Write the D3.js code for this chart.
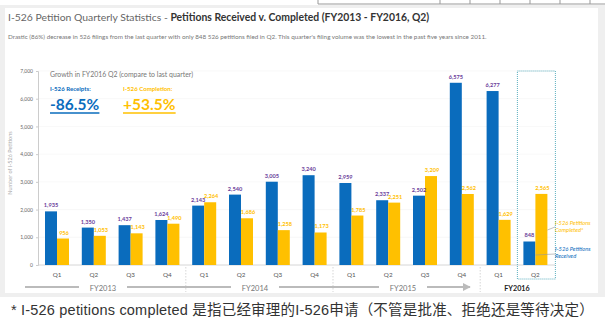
<!DOCTYPE html>
<html>
<head>
<meta charset="utf-8">
<script src="https://cdn.jsdelivr.net/npm/d3@7"></script>
<style>
  body { margin: 0; background: #fff; }
  svg { display: block; }
</style>
</head>
<body>
<svg id="chart" width="605" height="323"></svg>
<script>
const quarters = ["Q1", "Q2", "Q3", "Q4", "Q1", "Q2", "Q3", "Q4", "Q1", "Q2", "Q3", "Q4", "Q1", "Q2"];
const received = [1935, 1350, 1437, 1624, 2143, 2540, 3005, 3240, 2959, 2337, 2502, 6575, 6277, 848];
const completed = [956, 1053, 1143, 1490, 2264, 1686, 1258, 1173, 1785, 2251, 3209, 2562, 1629, 2565];
const yTicks = [0, 1000, 2000, 3000, 4000, 5000, 6000, 7000];
const fiscalYears = ["FY2013", "FY2014", "FY2015", "FY2016"];
const yearStart = [0, 4, 8, 12];

const blue = "#0a6cbd";
const yellow = "#ffc000";
const purple = "#6a3d9a";
const fontC = "Lato, 'Open Sans', sans-serif";

const svg = d3.select("#chart");

// panel frame
svg.append("rect").attr("x", 0).attr("y", 5).attr("width", 605).attr("height", 292).attr("fill", "#efefef");
svg.append("rect").attr("x", 5).attr("y", 8).attr("width", 593).attr("height", 285).attr("fill", "#fff");
// table fragment on top
svg.append("line").attr("x1", 318).attr("x2", 605).attr("y1", 4).attr("y2", 4).attr("stroke", "#999");
[318, 440, 470, 500, 530, 560, 590].forEach(x =>
  svg.append("line").attr("x1", x).attr("x2", x).attr("y1", 0).attr("y2", 4).attr("stroke", "#999"));

// title
const title = svg.append("text").attr("x", 8).attr("y", 21)
  .attr("font-family", fontC).attr("font-size", 10.4);
title.append("tspan").attr("fill", "#666").text("I-526 Petition Quarterly Statistics - ");
title.append("tspan").attr("fill", "#333").attr("font-weight", "bold")
  .text("Petitions Received v. Completed (FY2013 - FY2016, Q2)");

svg.append("text").attr("x", 8).attr("y", 39)
  .attr("font-family", fontC).attr("font-size", 6.3).attr("fill", "#777")
  .text("Drastic (86%) decrease in 526 filings from the last quarter with only 848 526 petitions filed in Q2. This quarter's filing volume was the lowest in the past five years since 2011.");

const x = d3.scaleBand().domain(d3.range(quarters.length)).range([38.6, 553.8]).padding(0);
const inner = d3.scaleBand().domain(["r", "c"]).range([0, 24]);
const y = d3.scaleLinear().domain([0, 7000]).range([265, 71]);
const off = (x.bandwidth() - 24) / 2;

// gridlines
svg.append("g").selectAll("line").data(yTicks.slice(1)).join("line")
  .attr("x1", 38).attr("x2", 555).attr("y1", d => y(d)).attr("y2", d => y(d))
  .attr("stroke", "#f3f3f3").attr("stroke-width", 0.6);

// y axis
const yAxis = svg.append("g").attr("transform", "translate(38,0)")
  .call(d3.axisLeft(y).tickValues(yTicks).tickFormat(d3.format(",")).tickSize(2).tickPadding(3));
yAxis.select(".domain").attr("stroke", "#ccc");
yAxis.selectAll(".tick line").attr("stroke", "#ccc");
yAxis.selectAll("text").attr("font-family", fontC).attr("font-size", 5).attr("fill", "#666");

svg.append("text").attr("transform", "translate(12,163) rotate(-90)")
  .attr("text-anchor", "middle").attr("font-family", fontC).attr("font-size", 5.5).attr("fill", "#aaa")
  .text("Number of I-526 Petitions");

// baseline
svg.append("line").attr("x1", 38).attr("x2", 555).attr("y1", 265).attr("y2", 265)
  .attr("stroke", "#ccc").attr("stroke-width", 0.8);

// bars
const groups = svg.append("g").selectAll("g").data(quarters).join("g")
  .attr("transform", (d, i) => `translate(${x(i) + off},0)`);

groups.append("rect").attr("x", inner("r")).attr("width", inner.bandwidth())
  .attr("y", (d, i) => y(received[i])).attr("height", (d, i) => 265 - y(received[i])).attr("fill", blue);
groups.append("rect").attr("x", inner("c")).attr("width", inner.bandwidth())
  .attr("y", (d, i) => y(completed[i])).attr("height", (d, i) => 265 - y(completed[i])).attr("fill", yellow);

groups.append("text").attr("x", inner("r") + inner.bandwidth() / 2)
  .attr("y", (d, i) => y(received[i]) - 4)
  .attr("text-anchor", "middle").attr("font-family", fontC).attr("font-size", 5.6)
  .attr("font-weight", "bold").attr("fill", purple)
  .text((d, i) => d3.format(",")(received[i]));
groups.append("text").attr("x", inner("c") + inner.bandwidth() / 2 + 1)
  .attr("y", (d, i) => y(completed[i]) - 4)
  .attr("text-anchor", "middle").attr("font-family", fontC).attr("font-size", 5.6)
  .attr("font-weight", "bold").attr("fill", yellow)
  .text((d, i) => d3.format(",")(completed[i]));

groups.append("text").attr("x", 12).attr("y", 277)
  .attr("text-anchor", "middle").attr("font-family", fontC).attr("font-size", 6.3)
  .attr("fill", "#555").text(d => d);

// year separators (dashed)
yearStart.slice(1).forEach(i => {
  const sx = x(i);
  svg.append("line").attr("x1", sx).attr("x2", sx).attr("y1", 267).attr("y2", 292)
    .attr("stroke", "#bbb").attr("stroke-width", 0.6).attr("stroke-dasharray", "1.5,1.5");
});

// fiscal year arrow
svg.append("defs").append("marker").attr("id", "arr").attr("viewBox", "0 0 10 10")
  .attr("refX", 9).attr("refY", 5).attr("markerWidth", 4).attr("markerHeight", 4).attr("orient", "auto")
  .append("path").attr("d", "M0,0L10,5L0,10z").attr("fill", "#bbb");
const fyLabelX = [103, 255, 403];
const gaps = fyLabelX.map(c => [c - 24, c + 24]);
let segStart = 25;
gaps.forEach(g => {
  svg.append("line").attr("x1", segStart).attr("x2", g[0]).attr("y1", 287).attr("y2", 287)
    .attr("stroke", "#bbb").attr("stroke-width", 2);
  segStart = g[1];
});
svg.append("line").attr("x1", segStart).attr("x2", 470).attr("y1", 287).attr("y2", 287)
  .attr("stroke", "#bbb").attr("stroke-width", 2).attr("marker-end", "url(#arr)");

fiscalYears.slice(0, 3).forEach((fy, k) => {
  svg.append("text").attr("x", fyLabelX[k]).attr("y", 290.5).attr("text-anchor", "middle")
    .attr("font-family", fontC).attr("font-size", 7.5).attr("fill", "#777").text(fy);
});
svg.append("text").attr("x", 517).attr("y", 290.5).attr("text-anchor", "middle")
  .attr("font-family", fontC).attr("font-size", 7.2).attr("font-weight", "bold").attr("fill", "#222")
  .text(fiscalYears[3]);

// highlight box around last quarter
const last = quarters.length - 1;
svg.append("rect").attr("x", x(last) + off - 6).attr("y", 71)
  .attr("width", 38).attr("height", 208)
  .attr("fill", "none").attr("stroke", "#4aa6b8").attr("stroke-width", 0.9).attr("stroke-dasharray", "1,1");

// side annotations
const cx = x(last) + off;
svg.append("line").attr("x1", cx + 24).attr("x2", 555).attr("y1", 230).attr("y2", 227)
  .attr("stroke", "#999").attr("stroke-width", 0.6);
svg.append("line").attr("x1", cx + 12).attr("x2", 555).attr("y1", 255).attr("y2", 254)
  .attr("stroke", "#999").attr("stroke-width", 0.6);
[["I-526 Petitions", 225], ["Completed*", 232]].forEach(t =>
  svg.append("text").attr("x", 555).attr("y", t[1]).attr("font-family", fontC).attr("font-size", 5.8)
    .attr("font-style", "italic").attr("fill", yellow).text(t[0]));
[["I-526 Petitions", 251], ["Received", 258]].forEach(t =>
  svg.append("text").attr("x", 555).attr("y", t[1]).attr("font-family", fontC).attr("font-size", 5.8)
    .attr("font-style", "italic").attr("fill", blue).text(t[0]));

// growth callout
svg.append("text").attr("x", 50).attr("y", 76.5).attr("font-family", fontC).attr("font-size", 6.9)
  .attr("fill", "#777").text("Growth in FY2016 Q2 (compare to last quarter)");
svg.append("text").attr("x", 50).attr("y", 91).attr("font-family", fontC).attr("font-size", 6.1)
  .attr("font-weight", "bold").attr("fill", blue).text("I-526 Receipts:");
svg.append("text").attr("x", 123).attr("y", 91).attr("font-family", fontC).attr("font-size", 6.1)
  .attr("font-weight", "bold").attr("fill", yellow).text("I-526 Completion:");
const big1 = svg.append("text").attr("x", 50).attr("y", 110).attr("font-family", fontC).attr("font-size", 15.5)
  .attr("font-weight", "bold").attr("fill", blue).text("-86.5%");
const big2 = svg.append("text").attr("x", 123).attr("y", 110).attr("font-family", fontC).attr("font-size", 15.5)
  .attr("font-weight", "bold").attr("fill", yellow).text("+53.5%");
[[big1, blue], [big2, yellow]].forEach(([t, c]) => {
  const b = t.node().getBBox();
  svg.append("line").attr("x1", b.x).attr("x2", b.x + b.width).attr("y1", 113).attr("y2", 113)
    .attr("stroke", c).attr("stroke-width", 1.3);
});

// footnote
svg.append("text").attr("x", 11).attr("y", 315)
  .attr("font-family", "'Liberation Sans', Arial, 'Noto Sans CJK SC', sans-serif").attr("font-size", 14.5)
  .attr("letter-spacing", 0.2).attr("fill", "#333")
  .text("* I-526 petitions completed 是指已经审理的I-526申请（不管是批准、拒绝还是等待决定）");
</script>
</body>
</html>
